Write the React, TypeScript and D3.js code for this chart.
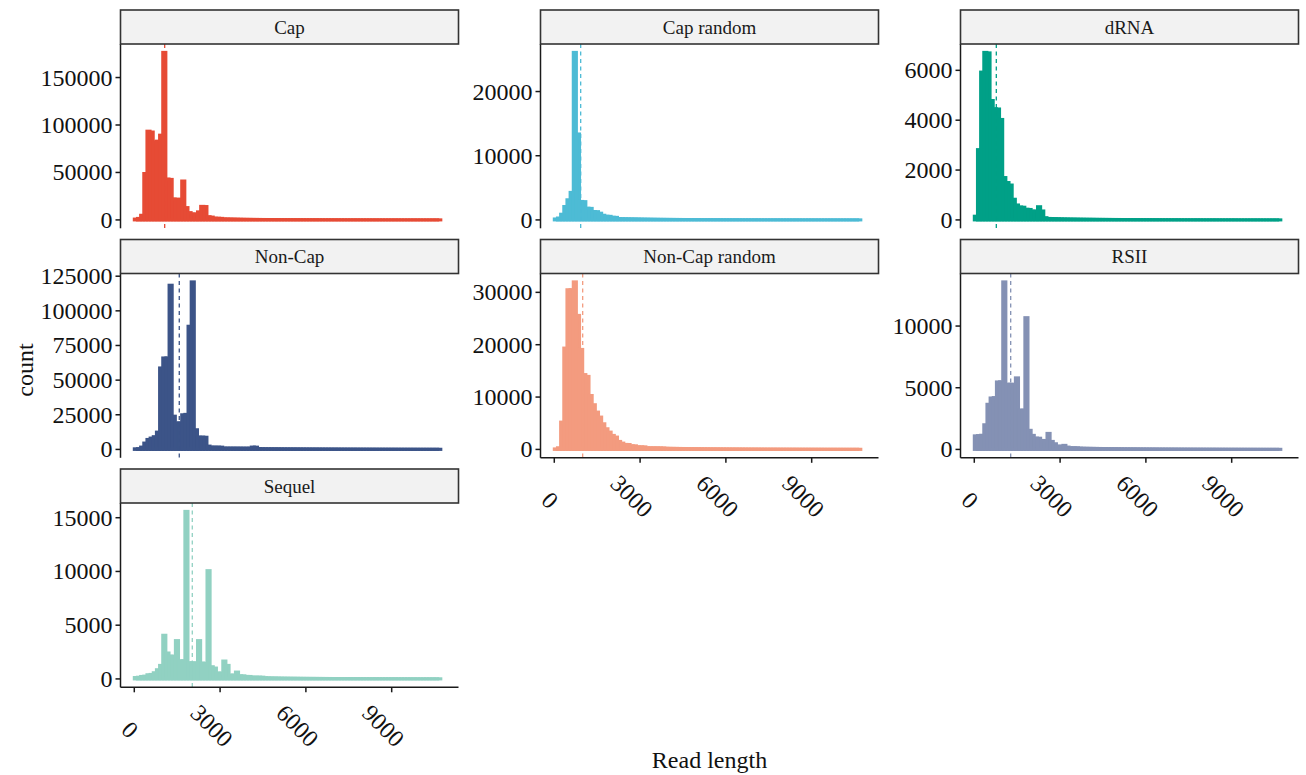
import React from 'react';
import * as d3 from 'd3';

// ---------- data ----------
const panelNames = ['Cap', 'Cap random', 'dRNA', 'Non-Cap', 'Non-Cap random', 'RSII', 'Sequel'];
const panelColors = ['#E64B35', '#4DBBD5', '#00A087', '#3C5488', '#F39B7F', '#8491B4', '#91D1C2'];
const binWidth = 110.5; // read-length units per histogram bin

const capCounts = [
  900, 1600, 4900, 48900, 93500, 92600, 82300, 83000, 89300, 176500,
  43100, 42700, 22200, 21600, 21900, 41000, 13000, 7700, 6400, 6100,
  8500, 14300, 14100, 3400, 3000, 1900, 1800, 1650, 1100, 1050,
  980, 900, 820,
  760, 700, 640, 610, 560, 530, 505, 470,
  455, 430, 410, 395, 370, 360, 345, 330,
  320, 305, 290, 285, 270, 262, 250, 241,
  236, 225, 218, 210, 204, 196, 190, 186,
  180, 172, 168, 161, 158, 150, 147, 141,
  138, 133, 129, 124, 121, 117, 113, 110,
  106, 104, 100, 97, 94, 92, 88, 86,
  83, 81, 78, 76, 74, 71, 69, 67,
];
const capRandomCounts = [
  150, 300, 890, 2090, 3140, 4290, 26100, 13390, 2880, 2850,
  1830, 1800, 1310, 1290, 1050, 730, 580, 560, 420, 400,
  210, 200, 190, 180,
  170, 160, 150, 140, 132, 125, 118, 110,
  104, 98, 93, 88, 84, 80, 76, 72,
  69, 66, 63, 60, 58, 55, 53, 51,
  49, 47, 45, 43, 42, 40, 39, 37,
  36, 35, 33, 32, 31, 30, 29, 28,
  27, 26, 25, 25, 24, 23, 22, 22,
  21, 20, 20, 19, 18, 18, 17, 17,
  16, 16, 15, 15, 14, 14, 13, 13,
  12, 12, 12, 11, 11, 10, 10, 10, 9,
];
const dRNACounts = [
  150, 2820, 5930, 6720, 6700, 4790, 4460, 4450, 4030, 1700,
  1500, 1400, 830, 600, 520, 510, 430, 420, 360, 350,
  530, 360, 90, 60, 55, 52, 48,
  44, 41, 39, 37, 35, 33, 31, 30,
  28, 27, 26, 24, 23, 22, 21, 20,
  19, 18, 18, 17, 16, 15, 15, 14,
  13, 13, 12, 12, 11, 11, 10, 10,
  9, 9, 9, 8, 8, 8, 7, 7,
  7, 6, 6, 6, 6, 5, 5, 5,
  5, 5, 4, 4, 4, 4, 4, 4,
  3, 3, 3, 3, 3, 3, 3, 3,
  2, 2, 2, 2, 2, 2,
];
const nonCapCounts = [
  450, 550, 1700, 4600, 7200, 8200, 9200, 12500, 58800, 66000,
  66000, 118500, 24000, 19000, 19200, 25000, 25300, 88900, 120900, 14200,
  8900, 8900, 8800, 2400, 1700, 1700, 1650, 1650, 1000, 1000,
  980, 990, 960, 970, 950, 940, 960, 1700, 1650,
  620, 560, 530, 510, 500, 480, 470, 455,
  440, 430, 420, 405, 395, 385, 375, 365,
  355, 345, 338, 330, 320, 312, 305, 298,
  290, 283, 276, 270, 262, 255, 250, 243,
  236, 230, 225, 219, 214, 208, 203, 198,
  193, 188, 184, 180, 175, 171, 167, 163,
  160, 156, 152, 149, 145, 142, 139, 136, 133, 130,
];
const nonCapRandomCounts = [
  100, 320, 5220, 19360, 30500, 30500, 32000, 25600, 19100, 14300,
  13950, 10300, 8540, 7130, 6180, 4900, 3950, 3310, 2680, 2360,
  1530, 1210, 960, 940, 700, 690, 510, 500, 490, 330,
  320, 315, 310, 300, 290,
  230, 215, 205, 196, 188, 180, 172, 165,
  158, 152, 146, 140, 135, 130, 125, 120,
  116, 112, 108, 104, 100, 97, 94, 91,
  88, 85, 82, 80, 77, 75, 73, 71,
  69, 67, 65, 63, 61, 59, 58, 56,
  55, 53, 52, 50, 49, 48, 46, 45,
  44, 43, 42, 41, 40, 39, 38, 37,
  36, 35, 34, 33, 33, 32,
];
const rsiiCounts = [
  1100, 1120, 1150, 2000, 3660, 4170, 4200, 5470, 5480, 13580,
  5280, 5290, 5270, 5800, 3170, 3200, 10680, 1550, 1140, 920,
  910, 730, 720, 1300, 650, 460, 270, 265, 330, 190,
  140, 140, 135,
  110, 100, 95, 90, 86, 82, 78, 75,
  72, 69, 66, 63, 61, 58, 56, 54,
  52, 50, 48, 46, 45, 43, 42, 40,
  39, 37, 36, 35, 34, 33, 32, 31,
  30, 29, 28, 27, 26, 25, 25, 24,
  23, 22, 22, 21, 20, 20, 19, 18,
  18, 17, 17, 16, 16, 15, 15, 14,
  14, 13, 13, 12, 12, 12, 11, 11,
];
const sequelCounts = [
  130, 160, 230, 260, 390, 420, 576, 857, 1260, 4065,
  2414, 2134, 2100, 3567, 1666, 1700, 15590, 1510, 1500, 1490,
  3567, 1480, 1450, 10077, 1137, 1012, 545, 550, 1666, 1260,
  358, 360, 639, 296, 290, 234, 230, 171, 175, 168, 165,
  120, 105, 96, 90, 85, 80, 76, 72,
  69, 66, 63, 60, 57, 55, 53, 51,
  49, 47, 45, 43, 42, 40, 39, 37,
  36, 35, 34, 33, 32, 31, 30, 29,
  28, 27, 26, 25, 25, 24, 23, 22,
  22, 21, 20, 20, 19, 19, 18, 17,
  17, 16, 16, 15, 15, 14, 14, 13,
];
const meanLengths = [1063, 923, 770, 1573, 993, 1273, 2028];

const capTicks = [0, 50000, 100000, 150000];
const capRandomTicks = [0, 10000, 20000];
const dRNATicks = [0, 2000, 4000, 6000];
const nonCapTicks = [0, 25000, 50000, 75000, 100000, 125000];
const nonCapRandomTicks = [0, 10000, 20000, 30000];
const rsiiTicks = [0, 5000, 10000];
const sequelTicks = [0, 5000, 10000, 15000];
const xTicks = [0, 3000, 6000, 9000];

const allCounts = [capCounts, capRandomCounts, dRNACounts, nonCapCounts, nonCapRandomCounts, rsiiCounts, sequelCounts];
const allTicks = [capTicks, capRandomTicks, dRNATicks, nonCapTicks, nonCapRandomTicks, rsiiTicks, sequelTicks];

// ---------- layout ----------
const W = 1306, H = 775;
const panelW = 338, panelH = 184.3, stripH = 34;
const colX = [120.5, 540.5, 960.5];
const rowY = [44, 273.5, 503];
const showXAxis = [false, false, false, false, true, true, true];
const FONT = '"Liberation Serif", "Times New Roman", serif';
const AXIS_COL = '#1a1a1a';

export default function App() {
  const x = d3.scaleLinear().domain([-482, 11336]).range([0, panelW]);

  return (
    <svg width={W} height={H} style={{ position: 'absolute', left: 0, top: 0, background: '#fff' }} fontFamily={FONT}>
      <rect width={W} height={H} fill="#fff" />
      {panelNames.map((name, k) => {
        const counts = allCounts[k];
        const color = panelColors[k];
        const maxV = d3.max(counts) as number;
        const y = d3.scaleLinear().domain([-0.05 * maxV, 1.05 * maxV]).range([panelH, 0]);
        const col = k % 3, row = Math.floor(k / 3);
        const tx = colX[col], ty = rowY[row];
        const xm = x(meanLengths[k]);
        return (
          <g key={name} transform={`translate(${tx},${ty})`}>
            {/* bars */}
            {counts.map((c, i) => {
              const x0 = x(i * binWidth), x1 = x((i + 1) * binWidth);
              return (
                <rect key={i} x={x0} y={y(c)} width={x1 - x0} height={y(0) - y(c)}
                  fill={color} stroke={color} strokeWidth={3} strokeLinejoin="miter" />
              );
            })}
            {/* mean line */}
            <line x1={xm} x2={xm} y1={0} y2={panelH} stroke={color} strokeWidth={1.3} strokeDasharray="4,3.5" />
            {/* y axis */}
            <line x1={0} x2={0} y1={0} y2={panelH} stroke={AXIS_COL} strokeWidth={1.5} />
            {allTicks[k].map((t) => (
              <g key={t}>
                <line x1={-5} x2={0} y1={y(t)} y2={y(t)} stroke={AXIS_COL} strokeWidth={1.5} />
                <text x={-8} y={y(t)} textAnchor="end" dominantBaseline="central" fontSize={24} fill="#111">{t}</text>
              </g>
            ))}
            {/* x axis */}
            {showXAxis[k] && (
              <g>
                <line x1={0} x2={panelW} y1={panelH} y2={panelH} stroke={AXIS_COL} strokeWidth={1.5} />
                {xTicks.map((t) => {
                  const L = String(t).length * 12;
                  const off = 0.16 * L * 0.707;
                  const cx = x(t) - 3 - off;
                  const cy = panelH + 44 - off;
                  return (
                    <g key={t}>
                      <line x1={x(t)} x2={x(t)} y1={panelH} y2={panelH + 5} stroke={AXIS_COL} strokeWidth={1.5} />
                      <text transform={`translate(${cx},${cy}) rotate(45)`} textAnchor="middle" dominantBaseline="central" fontSize={24} fill="#111">{t}</text>
                    </g>
                  );
                })}
              </g>
            )}
            {/* strip */}
            <rect x={0} y={-stripH} width={panelW} height={stripH} fill="#F2F2F2" stroke="#333" strokeWidth={1.6} />
            <text x={panelW / 2} y={-stripH / 2} textAnchor="middle" dominantBaseline="central" fontSize={19} fill="#1a1a1a">{name}</text>
          </g>
        );
      })}
      <text transform="translate(33,370) rotate(-90)" textAnchor="middle" fontSize={24} fill="#111">count</text>
      <text x={709.5} y={768} textAnchor="middle" fontSize={24} fill="#111">Read length</text>
    </svg>
  );
}
